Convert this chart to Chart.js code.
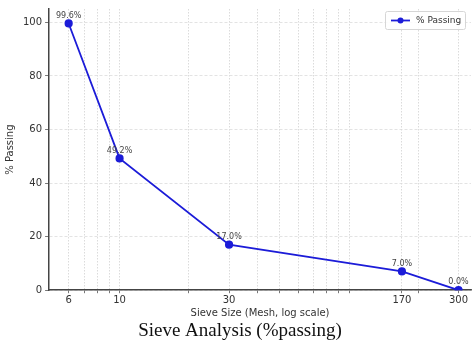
<!DOCTYPE html>
<html>
<head>
<meta charset="utf-8">
<script src="https://cdn.jsdelivr.net/npm/chart.js@4.4.1/dist/chart.umd.min.js"></script>
<style>
  html,body{margin:0;padding:0;background:#fff;}
  #wrap{width:476px;height:344px;}
</style>
</head>
<body>
<div id="wrap"><canvas id="c"></canvas></div>
<script>
const meshSizes = [6, 10, 30, 170, 300];
const passing   = [99.6, 49.2, 17.0, 7.0, 0.0];
const xGridVals = [6, 7, 8, 9, 10, 20, 30, 40, 50, 60, 70, 80, 90, 100, 170, 200, 300];
const xLabelled = [6, 10, 30, 170, 300];
const yTicks    = [0, 20, 40, 60, 80, 100];

const SANS = '"DejaVu Sans", sans-serif';
const BLUE = '#1c1cd8';

// value labels above each point
const pointLabels = {
  id:'pointLabels',
  afterDatasetsDraw(chart){
    const ctx = chart.ctx;
    const meta = chart.getDatasetMeta(0);
    ctx.save();
    ctx.font = '8px ' + SANS;
    ctx.fillStyle = '#444';
    ctx.textAlign = 'center';
    ctx.textBaseline = 'bottom';
    meta.data.forEach((pt,i)=>{
      ctx.fillText(passing[i].toFixed(1) + '%', pt.x, pt.y - 4);
    });
    ctx.restore();
  }
};

// matplotlib-ish legend box in upper right
const boxLegend = {
  id:'boxLegend',
  afterDraw(chart){
    const ctx = chart.ctx, a = chart.chartArea;
    const w = 80, h = 18, x = a.right - w - 6, y = a.top + 2;
    ctx.save();
    ctx.fillStyle = 'rgba(255,255,255,0.85)';
    ctx.strokeStyle = '#d6d6d6';
    ctx.lineWidth = 1;
    ctx.beginPath();
    ctx.roundRect(x + .5, y + .5, w, h, 2);
    ctx.fill(); ctx.stroke();
    const cy = y + h/2 + .5;
    ctx.strokeStyle = BLUE; ctx.lineWidth = 1.8;
    ctx.beginPath(); ctx.moveTo(x + 6, cy); ctx.lineTo(x + 25, cy); ctx.stroke();
    ctx.fillStyle = BLUE;
    ctx.beginPath(); ctx.arc(x + 15.5, cy, 3, 0, Math.PI*2); ctx.fill();
    ctx.fillStyle = '#333';
    ctx.font = '9px ' + SANS;
    ctx.textBaseline = 'middle';
    ctx.fillText(chart.data.datasets[0].label, x + 31, cy);
    ctx.restore();
  }
};

new Chart(document.getElementById('c'), {
  type:'line',
  data:{
    datasets:[{
      label:'% Passing',
      data: meshSizes.map((m,i)=>({x:m, y:passing[i]})),
      borderColor: BLUE,
      backgroundColor: BLUE,
      borderWidth: 1.8,
      pointRadius: 3.2,
      pointHoverRadius: 3.2,
      tension: 0
    }]
  },
  options:{
    responsive:true,
    maintainAspectRatio:false,
    animation:false,
    events:[],
    layout:{padding:{left:4, right:0, top:8, bottom:0}},
    plugins:{
      legend:{display:false},
      tooltip:{enabled:false},
      title:{
        display:true,
        position:'bottom',
        text:'Sieve Analysis (%passing)',
        color:'#111',
        font:{family:'"Liberation Serif", "Times New Roman", serif', size:19, weight:'normal'},
        padding:{top:0, bottom:2}
      }
    },
    scales:{
      x:{
        type:'logarithmic',
        min:4.93, max:340,
        afterBuildTicks(s){ s.ticks = xGridVals.map(v=>({value:v})); },
        ticks:{
          autoSkip:false, maxRotation:0,
          color:'#333',
          font:{family:SANS, size:10},
          padding:1,
          callback:(v)=> xLabelled.includes(v) ? String(v) : ''
        },
        grid:{color:'#d2d2d2', lineWidth:0.8, drawTicks:true, tickLength:3, tickColor:'#555'},
        border:{display:true, color:'#444', width:1.5, dash:[1.5,1.5]},
        title:{display:true, text:'Sieve Size (Mesh, log scale)', color:'#333', font:{family:SANS, size:10}, padding:{top:0, bottom:0}}
      },
      y:{
        min:0, max:105,
        afterBuildTicks(s){ s.ticks = yTicks.map(v=>({value:v})); },
        ticks:{color:'#333', font:{family:SANS, size:10}, padding:3},
        grid:{color:'#dcdcdc', lineWidth:0.8, tickLength:4, tickColor:'#555'},
        border:{display:true, color:'#444', width:1.5, dash:[3,2]},
        title:{display:true, text:'% Passing', color:'#333', font:{family:SANS, size:10}, padding:{top:0, bottom:4}}
      }
    }
  },
  plugins:[pointLabels, boxLegend]
});
</script>
</body>
</html>
